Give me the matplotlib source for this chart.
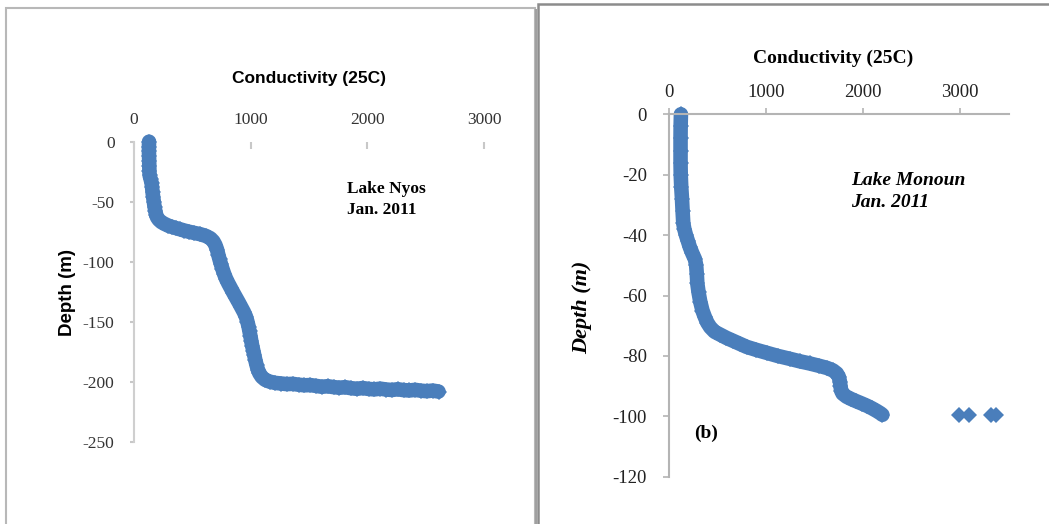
import matplotlib
matplotlib.use('Agg')
import matplotlib.pyplot as plt
from matplotlib.patches import Rectangle

plt.rcParams['axes.unicode_minus'] = False

# Lake Nyos, Jan. 2011 -- conductivity (25C) vs depth (m)
nyos_depth = [0, -4, -8, -12, -16, -20, -24, -28, -31, -34, -38, -42, -46,
              -50, -54, -58, -61, -63, -65, -67, -68.5, -70, -71, -72, -73,
              -74, -75, -76, -77, -78.5, -80.5, -83, -86, -90, -94, -98,
              -102, -106, -110, -114, -118, -122, -126, -130, -134, -138,
              -142, -146, -150, -154, -158, -162, -166, -170, -174, -178,
              -182, -186, -190, -193, -196, -198.5, -200, -201,
              -201.5, -202.0, -201.8, -202.5, -203.0, -202.8, -203.5, -204.2,
              -203.8, -204.5, -205.0, -204.6, -205.4, -205.9, -205.3, -206.0,
              -206.4, -205.8, -206.5, -206.9, -206.3, -207.0, -207.3, -206.8,
              -207.5, -207.9, -207.4, -208.2]
nyos_cond = [129, 128, 128, 129, 130, 131, 132, 134, 142, 150, 155, 159, 164,
             170, 176, 183, 190, 198, 212, 235, 262, 295, 325, 360, 395,
             430, 470, 515, 565, 615, 655, 680, 697, 712, 722, 733,
             745, 758, 772, 788, 808, 830, 852, 875, 898, 920,
             942, 960, 972, 982, 990, 998, 1005, 1013, 1022, 1031,
             1040, 1050, 1062, 1075, 1095, 1125, 1165, 1210,
             1260, 1310, 1360, 1410, 1460, 1510, 1560, 1610,
             1660, 1710, 1760, 1810, 1860, 1910, 1960, 2010,
             2060, 2110, 2160, 2210, 2260, 2310, 2360, 2410,
             2460, 2510, 2560, 2610]

# Lake Monoun, Jan. 2011
monoun_depth = [0, -4, -8, -12, -16, -20, -24, -28, -32, -36, -38, -40, -42,
                -44, -46, -48, -50, -53, -56, -59, -62, -65, -67, -69, -70.5,
                -72, -73, -74, -75, -76, -77, -78, -79, -80, -81, -81.8,
                -82.5, -83.3, -84, -84.8, -85.8, -87, -88.5, -90, -91.5,
                -92.5, -93.5, -94.3, -95, -95.8, -96.5, -97.3, -98.2, -99,
                -99.5]
monoun_cond = [123, 120, 119, 119, 119, 121, 126, 134, 140, 147, 158, 175, 195,
               215, 240, 268, 280, 287, 292, 305, 322, 345, 368, 395, 425,
               470, 530, 590, 660, 730, 800, 900, 1010, 1120, 1250, 1350,
               1450, 1550, 1630, 1690, 1730, 1752, 1762, 1768, 1775,
               1790, 1830, 1880, 1930, 1990, 2040, 2090, 2140, 2180,
               2200]
# bottom readings standing apart from the profile
monoun_out_depth = [-99.5, -99.5, -99.5, -99.5]
monoun_out_cond = [2990, 3090, 3320, 3375]

nyos_xticks = [0, 1000, 2000, 3000]
nyos_yticks = [0, -50, -100, -150, -200, -250]
monoun_xticks = [0, 1000, 2000, 3000]
monoun_yticks = [0, -20, -40, -60, -80, -100, -120]

BLUE = '#4A7EBB'
W, H = 1049, 524


def px_box(left, top, right, bottom):
    # pixel box (from top-left) -> figure fraction rect
    return [left / W, 1 - bottom / H, (right - left) / W, (bottom - top) / H]


def profile(ax, cond, depth):
    ax.plot(cond, depth, color=BLUE, lw=10.5, marker='D', ms=8.6, mew=0,
            solid_joinstyle='round', solid_capstyle='round', clip_on=False)


fig = plt.figure(figsize=(W / 100, H / 100), dpi=100)

# panel frames
fig.add_artist(Rectangle((6 / W, -0.05), 529 / W, 1.05 - 8 / H,
                         transform=fig.transFigure, fill=False,
                         ec='#b8b8b8', lw=1.5))
fig.add_artist(Rectangle((535 / W, -0.05), 0.002, 1.05 - 9 / H,
                         transform=fig.transFigure, fill=True,
                         fc='#a0a0a0', ec='none'))
fig.add_artist(Rectangle((538 / W, -0.05), 0.5, 1.05 - 4 / H,
                         transform=fig.transFigure, fill=False,
                         ec='#8c8c8c', lw=1.8))

# ---- left: Lake Nyos
ax1 = fig.add_axes(px_box(134, 141.7, 484, 441.7))
profile(ax1, nyos_cond, nyos_depth)
ax1.set_xlim(0, 3000)
ax1.set_ylim(-250, 0)
ax1.set_xticks(nyos_xticks)
ax1.set_yticks(nyos_yticks)
for s in ['right', 'bottom', 'top']:
    ax1.spines[s].set_visible(False)
ax1.spines['left'].set_color('#cfcfcf')
ax1.spines['left'].set_linewidth(1.5)
ax1.xaxis.tick_top()
ax1.tick_params(axis='x', direction='in', length=5, width=1.5,
                color='#c8c8c8', pad=10, labelsize=12.5, labelcolor='#333333')
ax1.tick_params(axis='y', direction='out', length=3, width=1.5,
                color='#c8c8c8', pad=11, labelsize=12.5, labelcolor='#333333')
for lab in ax1.get_xticklabels() + ax1.get_yticklabels():
    lab.set_fontfamily('Liberation Serif')

ax1.xaxis.set_label_position('top')
ax1.set_xlabel('Conductivity (25C)', fontfamily='Liberation Sans',
               fontweight='bold', fontsize=12.5, va='center')
ax1.xaxis.set_label_coords(0.5, 1 + (141.7 - 78) / 300)
ax1.set_ylabel('Depth (m)', fontfamily='Liberation Sans',
               fontweight='bold', fontsize=13.5, va='center')
ax1.yaxis.set_label_coords((68 - 134) / 350, 1 - (292 - 141.7) / 300)
ax1.text(1825, -48, 'Lake Nyos\nJan. 2011', fontfamily='Liberation Serif',
         fontweight='bold', fontsize=12.5, va='center', ha='left',
         linespacing=1.45)

# ---- right: Lake Monoun
ax2 = fig.add_axes(px_box(669, 114.3, 1008.5, 476.7))
profile(ax2, monoun_cond, monoun_depth)
ax2.plot(monoun_out_cond, monoun_out_depth, ls='none', marker='D', ms=8.6,
         mew=0, color=BLUE, clip_on=False)
ax2.set_xlim(0, 3500)
ax2.set_ylim(-120, 0)
ax2.set_xticks(monoun_xticks)
ax2.set_yticks(monoun_yticks)
for s in ['right', 'bottom']:
    ax2.spines[s].set_visible(False)
for s in ['left', 'top']:
    ax2.spines[s].set_color('#b4b4b4')
    ax2.spines[s].set_linewidth(1.5)
ax2.xaxis.tick_top()
ax2.tick_params(axis='x', direction='out', length=4.5, width=1.2,
                color='#b4b4b4', pad=5, labelsize=13.5, labelcolor='#222222')
ax2.tick_params(axis='y', direction='out', length=4.5, width=1.2,
                color='#b4b4b4', pad=11.5, labelsize=13.5, labelcolor='#222222')
for lab in ax2.get_xticklabels() + ax2.get_yticklabels():
    lab.set_fontfamily('Liberation Serif')

ax2.xaxis.set_label_position('top')
ax2.set_xlabel('Conductivity (25C)', fontfamily='Liberation Serif',
               fontweight='bold', fontsize=14, va='center')
ax2.xaxis.set_label_coords((833 - 669) / 339.5, 1 + (114.3 - 58.7) / 362.4)
ax2.set_ylabel('Depth (m)', fontfamily='Liberation Serif',
               fontweight='bold', fontstyle='italic', fontsize=16,
               va='center')
ax2.yaxis.set_label_coords((582 - 669) / 339.5, 1 - (307 - 114.3) / 362.4)
ax2.text(1881, -25.6, 'Lake Monoun\nJan. 2011', fontfamily='Liberation Serif',
         fontweight='bold', fontstyle='italic', fontsize=14, va='center',
         ha='left', linespacing=1.4)
ax2.text(381, -105.5, '(b)', fontfamily='Liberation Serif',
         fontweight='bold', fontsize=14, va='center', ha='center')

fig.savefig('out.png', dpi=100)
